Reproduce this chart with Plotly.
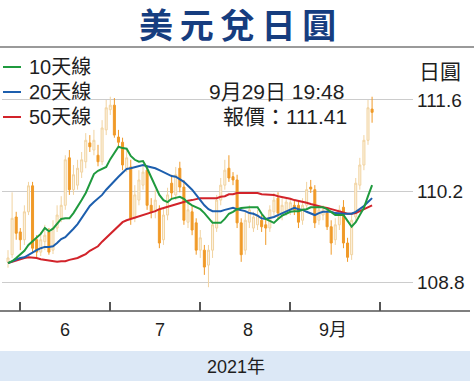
import plotly.graph_objects as go
import pandas as pd

# ---- data ----
dates = pd.bdate_range("2021-05-27", "2021-09-29").strftime("%Y-%m-%d").tolist()

open_ = [109.11, 109.22, 109.80, 109.57, 109.45, 109.88, 110.28, 109.45, 109.26, 109.42,
         109.57, 109.29, 109.63, 109.78, 109.98, 110.71, 110.22, 110.29, 110.49, 110.65,
         110.94, 110.83, 110.75, 110.65, 111.14, 111.45, 111.52, 111.03, 110.95, 110.55,
         110.57, 109.78, 110.06, 110.29, 110.52, 109.98, 109.88, 109.91, 109.45, 109.83,
         110.32, 110.14, 110.55, 110.26, 109.72, 109.88, 109.71, 109.29, 109.29, 109.06,
         109.29, 109.63, 110.06, 110.29, 110.55, 110.42, 110.37, 109.71, 109.29, 109.72,
         109.63, 109.68, 109.75, 109.68, 109.63, 109.88, 110.09, 109.83, 109.88, 109.91,
         109.98, 109.98, 109.75, 109.98, 110.26, 110.22, 109.75, 109.83, 109.86, 109.65,
         109.45, 109.68, 109.95, 109.40, 109.22, 109.80, 110.29, 110.60, 110.98, 111.46]
high = [109.29, 110.18, 109.88, 109.63, 109.98, 110.34, 110.34, 109.52, 109.57, 109.68,
        109.63, 109.75, 109.98, 110.12, 110.75, 110.83, 110.60, 110.68, 110.80, 111.09,
        111.06, 111.14, 110.91, 111.29, 111.60, 111.65, 111.63, 111.14, 111.02, 110.83,
        110.68, 110.29, 110.52, 110.60, 110.60, 110.09, 110.22, 109.98, 109.94, 110.25,
        110.45, 110.57, 110.65, 110.37, 110.03, 109.98, 109.78, 109.60, 109.37, 109.37,
        109.75, 110.14, 110.40, 110.68, 110.75, 110.49, 110.45, 109.78, 109.88, 109.98,
        109.88, 109.91, 109.83, 109.78, 109.98, 110.17, 110.18, 110.09, 110.09, 110.09,
        110.06, 110.06, 110.09, 110.34, 110.37, 110.29, 109.98, 109.98, 109.94, 109.75,
        109.78, 109.98, 110.06, 109.48, 109.83, 110.40, 110.71, 111.06, 111.60, 111.65]
low = [109.02, 109.17, 109.45, 109.29, 109.37, 109.83, 109.26, 109.17, 109.20, 109.29,
       109.22, 109.23, 109.57, 109.72, 109.91, 110.14, 110.14, 110.22, 110.40, 110.55,
       110.80, 110.75, 110.58, 110.60, 111.06, 111.37, 111.02, 110.88, 110.52, 110.49,
       109.68, 109.72, 109.98, 110.22, 109.91, 109.78, 109.78, 109.32, 109.37, 109.75,
       110.09, 110.06, 110.18, 109.68, 109.63, 109.52, 109.22, 109.17, 108.91, 108.72,
       109.17, 109.57, 109.98, 110.22, 110.34, 110.29, 109.63, 109.11, 109.22, 109.63,
       109.57, 109.60, 109.57, 109.37, 109.57, 109.82, 109.78, 109.75, 109.82, 109.83,
       109.83, 109.63, 109.68, 109.91, 110.17, 109.63, 109.68, 109.75, 109.60, 109.22,
       109.37, 109.60, 109.32, 109.11, 109.14, 109.72, 110.22, 110.52, 110.91, 111.25]
close = [109.17, 109.78, 109.55, 109.45, 109.88, 110.28, 109.32, 109.26, 109.45, 109.52,
         109.26, 109.63, 109.83, 109.98, 110.68, 110.22, 110.45, 110.55, 110.68, 110.98,
         110.88, 110.98, 110.65, 111.17, 111.48, 111.52, 111.06, 110.95, 110.60, 110.71,
         109.78, 110.14, 110.37, 110.49, 109.98, 109.88, 110.06, 109.40, 109.83, 110.14,
         110.17, 110.45, 110.26, 109.75, 109.91, 109.60, 109.29, 109.48, 109.03, 109.29,
         109.68, 110.06, 110.29, 110.52, 110.40, 110.37, 109.71, 109.22, 109.75, 109.91,
         109.80, 109.83, 109.65, 109.63, 109.91, 110.06, 109.86, 109.98, 110.03, 110.02,
         109.91, 109.72, 109.98, 110.22, 110.23, 109.71, 109.91, 109.91, 109.65, 109.40,
         109.68, 109.91, 109.40, 109.18, 109.75, 110.32, 110.60, 110.98, 111.48, 111.41]

ma10 = [109.09, 109.12, 109.17, 109.22, 109.28, 109.37, 109.43, 109.48, 109.54, 109.63,
        109.58, 109.62, 109.69, 109.77, 109.78, 109.78, 109.86, 109.95, 110.06, 110.17,
        110.32, 110.46, 110.51, 110.54, 110.57, 110.69, 110.78, 110.88, 110.86, 110.85,
        110.74, 110.68, 110.65, 110.66, 110.55, 110.42, 110.29, 110.14, 110.06, 110.03,
        110.08, 110.09, 110.11, 110.08, 110.02, 109.98, 109.95, 109.92, 109.86, 109.78,
        109.71, 109.71, 109.71, 109.77, 109.85, 109.88, 109.92, 109.94, 109.95, 109.95,
        109.95, 109.95, 109.85, 109.77, 109.74, 109.71, 109.77, 109.82, 109.85, 109.88,
        109.89, 109.89, 109.91, 109.92, 109.95, 109.95, 109.95, 109.95, 109.92, 109.88,
        109.83, 109.83, 109.83, 109.74, 109.65, 109.72, 109.82, 109.94, 110.12, 110.29]
ma20 = [109.09, 109.12, 109.14, 109.17, 109.18, 109.22, 109.25, 109.29, 109.32, 109.34,
        109.34, 109.35, 109.40, 109.46, 109.49, 109.55, 109.62, 109.69, 109.78, 109.89,
        109.97, 110.03, 110.08, 110.14, 110.22, 110.29, 110.35, 110.42, 110.48, 110.54,
        110.55, 110.57, 110.58, 110.60, 110.58, 110.57, 110.55, 110.52, 110.49, 110.46,
        110.43, 110.42, 110.38, 110.34, 110.28, 110.22, 110.14, 110.06, 109.98, 109.92,
        109.89, 109.89, 109.89, 109.91, 109.92, 109.94, 109.92, 109.91, 109.89, 109.86,
        109.85, 109.82, 109.78, 109.77, 109.78, 109.80, 109.83, 109.86, 109.89, 109.92,
        109.94, 109.92, 109.91, 109.88, 109.85, 109.83, 109.86, 109.88, 109.88, 109.88,
        109.86, 109.85, 109.85, 109.85, 109.85, 109.88, 109.92, 109.97, 110.03, 110.09]
ma50 = [109.09, 109.11, 109.14, 109.15, 109.17, 109.18, 109.18, 109.17, 109.15, 109.14,
        109.12, 109.11, 109.11, 109.12, 109.12, 109.14, 109.15, 109.17, 109.20, 109.23,
        109.28, 109.31, 109.35, 109.42, 109.48, 109.54, 109.60, 109.66, 109.72, 109.75,
        109.77, 109.78, 109.80, 109.82, 109.85, 109.86, 109.89, 109.92, 109.94, 109.95,
        109.97, 110.00, 110.02, 110.03, 110.05, 110.06, 110.08, 110.09, 110.09, 110.09,
        110.09, 110.09, 110.11, 110.12, 110.15, 110.15, 110.17, 110.17, 110.17, 110.17,
        110.17, 110.17, 110.15, 110.15, 110.15, 110.14, 110.12, 110.11, 110.09, 110.08,
        110.06, 110.05, 110.03, 110.02, 110.00, 109.98, 109.97, 109.95, 109.94, 109.92,
        109.91, 109.88, 109.86, 109.85, 109.85, 109.86, 109.89, 109.92, 109.95, 109.98]

y_ticks = [108.8, 110.2, 111.6]
y_ticktext = ["108.8", "110.2", "111.6"]
month_starts = ["2021-06-01", "2021-07-01", "2021-08-02", "2021-09-01", "2021-10-01"]
month_labels = ["6", "7", "8", "9月"]
series_names = ["10天線", "20天線", "50天線"]

# ---- styles ----
GREEN, BLUE, RED = "#1f9a3e", "#1d5fae", "#d2232a"
ORANGE, PALE = "#f09a28", "#f1d3a0"
FONT = "Liberation Sans, Noto Sans CJK TC, sans-serif"
TXT = "#1e1e1e"

W, H = 474, 386
ML, MR, MT, MB = 2, 61, 55, 75
PW, PH = W - ML - MR, H - MT - MB


def px_x(p):
    return (p - ML) / PW


def px_y(p):
    return (H - MB - p) / PH


fig = go.Figure()
fig.add_trace(go.Candlestick(
    x=dates, open=open_, high=high, low=low, close=close,
    increasing=dict(line=dict(color=PALE, width=1), fillcolor="#fcf3e3"),
    decreasing=dict(line=dict(color=ORANGE, width=1), fillcolor=ORANGE),
    whiskerwidth=0, showlegend=False, hoverinfo="skip"))
for vals, col in [(ma50, RED), (ma20, BLUE), (ma10, GREEN)]:
    fig.add_trace(go.Scatter(x=dates, y=vals, mode="lines",
                             line=dict(color=col, width=2), showlegend=False,
                             hoverinfo="skip"))

shapes = [
    dict(type="rect", xref="paper", yref="paper", x0=px_x(0), x1=px_x(470),
         y0=px_y(381), y1=px_y(351), fillcolor="#dce8f6", line=dict(width=0),
         layer="below"),
    dict(type="line", xref="paper", yref="paper", x0=px_x(0), x1=px_x(470),
         y0=0, y1=0, line=dict(color="#555555", width=1.5)),
    dict(type="line", xref="paper", yref="paper", x0=px_x(0), x1=px_x(474),
         y0=px_y(47), y1=px_y(47), line=dict(color="#9a9a9a", width=2)),
]


def note(text, x, y, size, xanchor="center", color=TXT, family=FONT):
    return dict(text=text, x=px_x(x), y=px_y(y), xref="paper", yref="paper",
                xanchor=xanchor, yanchor="middle", showarrow=False,
                font=dict(family=family, size=size, color=color))


annotations = [
    note("<b>美 元 兌 日 圓</b>".replace(" ", "\u2009"), 237, 23, 34,
         color="#163d7f", family="Noto Sans CJK TC"),
    note("9月29日 19:48", 207, 91, 21, "left"),
    note("報價：111.41", 221, 116, 21, "left"),
    note("日圓", 417, 71, 21, "left"),
    note("2021年", 236, 367, 18),
]
for lab, px in zip(month_labels, [65, 160, 248, 333]):
    annotations.append(note(lab, px, 330, 18))
for name, col, py in zip(series_names, [GREEN, BLUE, RED], [67, 92, 117]):
    shapes.append(dict(type="line", xref="paper", yref="paper", x0=px_x(3), x1=px_x(21),
                       y0=px_y(py), y1=px_y(py), line=dict(color=col, width=2)))
    annotations.append(note(name, 27, py, 20, "left"))

fig.update_layout(
    width=W, height=H, margin=dict(l=ML, r=MR, t=MT, b=MB, autoexpand=False),
    paper_bgcolor="white", plot_bgcolor="white", showlegend=False,
    shapes=shapes, annotations=annotations,
    xaxis=dict(type="date", range=["2021-05-25 12:43", "2021-10-13"],
               rangebreaks=[dict(bounds=["sat", "mon"])],
               rangeslider=dict(visible=False), automargin=False,
               tickvals=month_starts, ticktext=[""] * len(month_starts),
               ticks="inside", ticklen=9, tickwidth=1.5, tickcolor="#555555",
               showgrid=False, zeroline=False, showline=False, fixedrange=True),
    yaxis=dict(side="right", range=[108.354, 112.292], tickvals=y_ticks,
               ticktext=y_ticktext, showgrid=True, gridcolor="#cccccc", gridwidth=1,
               ticks="", ticklabelstandoff=3, zeroline=False, showline=False,
               automargin=False,
               tickfont=dict(family=FONT, size=19, color=TXT), fixedrange=True),
)

fig.write_html("out.html", config={"displayModeBar": False},
               post_script="document.body.style.margin='0px';")
